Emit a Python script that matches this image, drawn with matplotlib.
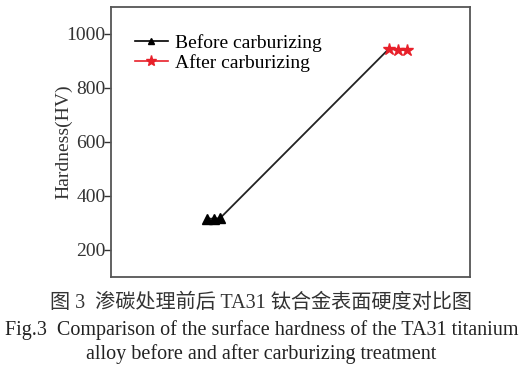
import matplotlib.pyplot as plt

# hardness readings (HV)
x_before = [2.67, 2.86, 3.04]
hv_before = [316, 316, 318]
x_after = [7.74, 7.99, 8.24]
hv_after = [945, 942, 941]
yticks = [200, 400, 600, 800, 1000]

serif = ['Liberation Serif', 'DejaVu Serif']
plt.rcParams['font.family'] = serif

fig = plt.figure(figsize=(5.23, 3.71), dpi=100)
ax = fig.add_axes([111 / 523, 1 - 277 / 371, 359 / 523, 270 / 371])

# black line runs through all points
ax.plot(x_before + x_after, hv_before + hv_after, color='#222222', lw=1.3, zorder=2)
ax.plot(x_before, hv_before, '^', color='black', ms=7, zorder=3)
ax.plot(x_after, hv_after, '*', color='#e8202a', ms=9, zorder=3)

# legend proxies with lines through markers
h1, = ax.plot([], [], '-^', color='black', ms=5, lw=1.2)
h2, = ax.plot([], [], '-*', color='#e8202a', ms=8, lw=1.2)
ax.legend([h1, h2], ['Before carburizing', 'After carburizing'], loc='upper left',
          bbox_to_anchor=(0.045, 0.93), frameon=False, fontsize=14,
          handlelength=1.7, handletextpad=0.35, labelspacing=0.12, borderaxespad=0)

ax.set_xlim(0, 10)
ax.set_ylim(100, 1100)
ax.set_yticks(yticks)
ax.set_xticks([])
ax.tick_params(axis='y', direction='out', length=5, width=1, labelsize=14, colors='#333333', pad=-1)
ax.set_ylabel('Hardness(HV)', fontsize=14, color='#333333')
ax.yaxis.set_label_coords(-0.108, 0.5)
for s in ax.spines.values():
    s.set_color('#555555')
    s.set_linewidth(1.3)

fig.text(0.5, 1 - 303 / 371, '图 3  渗碳处理前后 TA31 钛合金表面硬度对比图', ha='center', va='center',
         fontsize=14.5, color='#333333', family=['Liberation Serif', 'Noto Sans CJK SC'])
fig.text(0.5, 1 - 330 / 371, 'Fig.3  Comparison of the surface hardness of the TA31 titanium',
         ha='center', va='center', fontsize=14.5, color='#222222')
fig.text(0.5, 1 - 354 / 371, 'alloy before and after carburizing treatment',
         ha='center', va='center', fontsize=14.5, color='#222222')

fig.savefig('out.png', dpi=100)
